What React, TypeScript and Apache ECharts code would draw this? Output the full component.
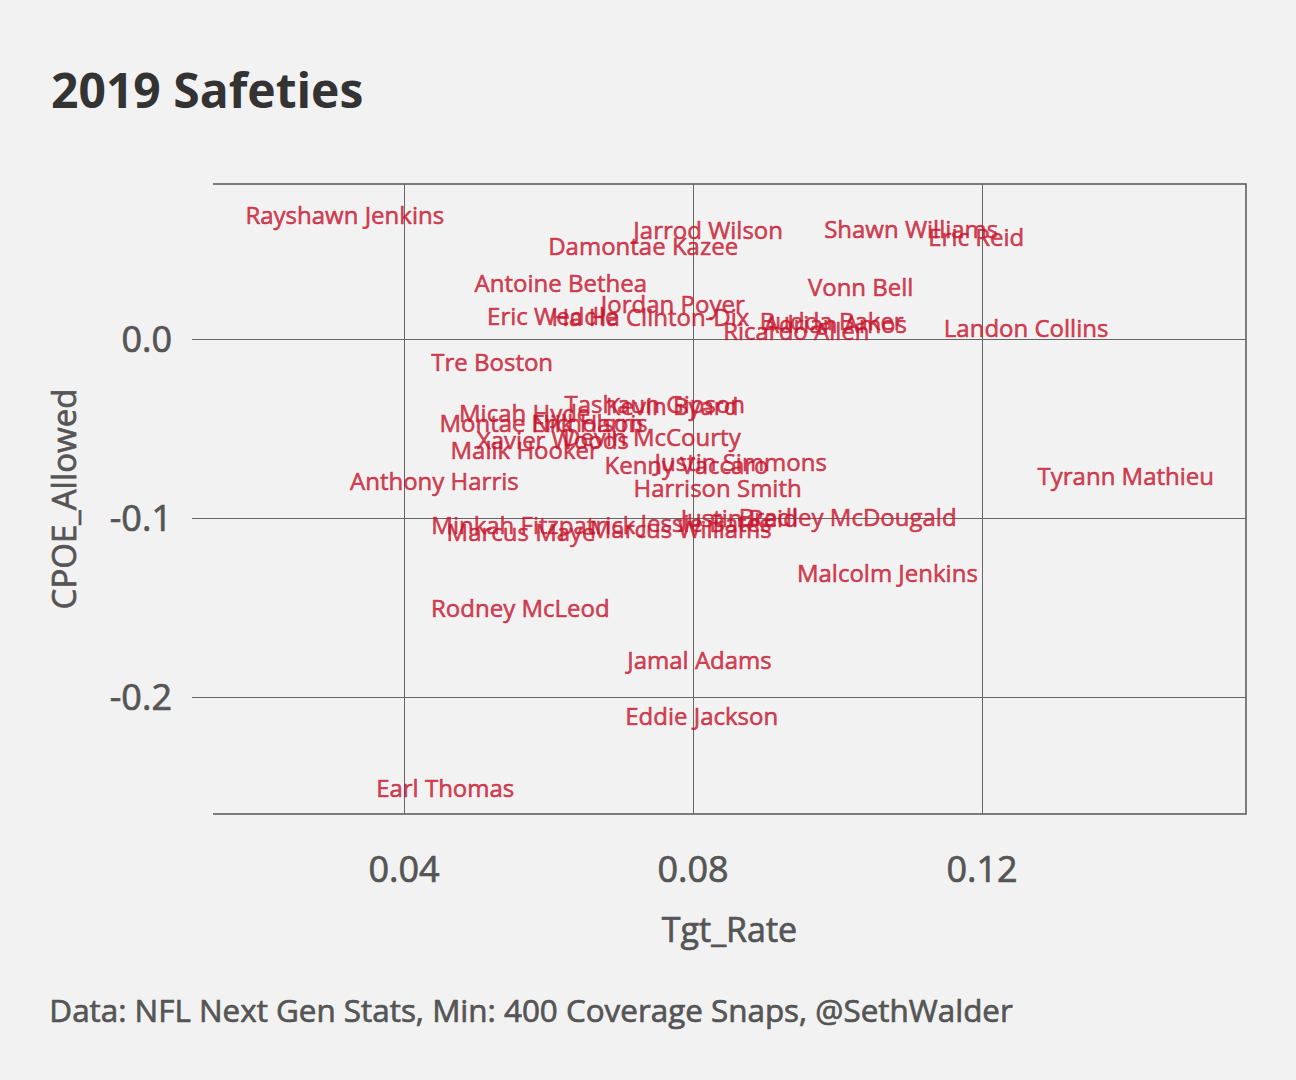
import React, { useEffect, useRef } from "react";
import * as echarts from "echarts";

const players = [
  "Rayshawn Jenkins", "Jarrod Wilson", "Damontae Kazee", "Shawn Williams", "Eric Reid",
  "Antoine Bethea", "Vonn Bell", "Jordan Poyer", "Eric Weddle", "Ha Ha Clinton-Dix",
  "Budda Baker", "Adrian Amos", "Ricardo Allen", "Landon Collins", "Tre Boston",
  "Tashaun Gipson", "Kevin Byard", "Micah Hyde", "Montae Nicholson", "Erik Harris",
  "Xavier Woods", "Devin McCourty", "Malik Hooker", "Kenny Vaccaro", "Justin Simmons",
  "Anthony Harris", "Harrison Smith", "Tyrann Mathieu", "Minkah Fitzpatrick", "Marcus Maye",
  "Jessie Bates", "Marcus Williams", "Justin Reid", "Bradley McDougald", "Malcolm Jenkins",
  "Rodney McLeod", "Jamal Adams", "Eddie Jackson", "Earl Thomas",
];

const tgtRate = [
  0.0318, 0.0821, 0.0731, 0.1102, 0.1192,
  0.0617, 0.1032, 0.0772, 0.0606, 0.0741,
  0.0992, 0.0997, 0.0943, 0.1261, 0.0522,
  0.0747, 0.0771, 0.0567, 0.059, 0.0657,
  0.0606, 0.0743, 0.0567, 0.0791, 0.0866,
  0.0442, 0.0834, 0.1399, 0.0579, 0.0562,
  0.0818, 0.0783, 0.0864, 0.1014, 0.1069,
  0.0561, 0.0809, 0.0812, 0.0457,
];

const cpoeAllowed = [
  0.0693, 0.0609, 0.052, 0.062, 0.057,
  0.0313, 0.0296, 0.0201, 0.0134, 0.0128,
  0.0101, 0.0084, 0.0045, 0.0067, -0.0123,
  -0.0358, -0.0374, -0.0413, -0.0464, -0.0469,
  -0.0564, -0.0547, -0.062, -0.0704, -0.0682,
  -0.0793, -0.0832, -0.076, -0.1034, -0.1073,
  -0.1028, -0.1061, -0.1, -0.0994, -0.1307,
  -0.1503, -0.1793, -0.2106, -0.2508,
];

const xTicks = [0.04, 0.08, 0.12];
const yTicks = [-0.2, -0.1, 0.0];

const FONT = "Open Sans";
const GRID_COLOR = "#666666";
const TEXT_GREY = "#555555";
const RED = "#c8142e";

export default function App() {
  const ref = useRef<HTMLDivElement>(null);

  useEffect(() => {
    document.body.style.margin = "0";
    const chart = echarts.init(ref.current!, undefined, { renderer: "svg" });
    const data = players.map((name, i) => ({ name, value: [tgtRate[i], cpoeAllowed[i]] }));
    const greyText = {
      fontFamily: FONT,
      color: TEXT_GREY,
      textBorderColor: TEXT_GREY,
      textBorderWidth: 0.7,
    };
    chart.setOption({
      animation: false,
      backgroundColor: "#f2f2f2",
      title: {
        text: "2019 Safeties",
        left: 46,
        top: 60,
        textStyle: { fontFamily: FONT, fontWeight: "bold", fontSize: 48, color: "#333333" },
      },
      grid: { left: 213, right: 50, top: 184, bottom: 266, containLabel: false },
      xAxis: {
        type: "value",
        min: 0.01356,
        max: 0.15654,
        name: "Tgt_Rate",
        nameLocation: "middle",
        nameGap: 98,
        nameTextStyle: { ...greyText, fontSize: 34 },
        axisLine: { show: false },
        axisTick: {
          show: true,
          length: 20,
          customValues: xTicks,
          lineStyle: { color: GRID_COLOR, width: 1 },
        },
        axisLabel: {
          customValues: xTicks,
          margin: 36,
          formatter: (v: number) => v.toFixed(2),
          ...greyText,
          fontSize: 36,
        },
        splitLine: { show: true, lineStyle: { color: GRID_COLOR, width: 1 } },
      },
      yAxis: {
        type: "value",
        min: -0.2654,
        max: 0.0866,
        name: "CPOE_Allowed",
        nameLocation: "middle",
        nameGap: 133,
        nameTextStyle: { ...greyText, fontSize: 33 },
        axisLine: { show: false },
        axisTick: {
          show: true,
          length: 21,
          customValues: yTicks,
          lineStyle: { color: GRID_COLOR, width: 1 },
        },
        axisLabel: {
          customValues: yTicks,
          margin: 41,
          formatter: (v: number) => v.toFixed(1),
          ...greyText,
          fontSize: 36,
        },
        splitLine: { show: true, lineStyle: { color: GRID_COLOR, width: 1 } },
      },
      graphic: [
        {
          type: "polyline",
          shape: { points: [[213, 184], [1246, 184], [1246, 814], [213, 814]] },
          style: { stroke: "#555555", lineWidth: 1.5, fill: null },
          silent: true,
        },
        {
          type: "text",
          left: 49,
          top: 994,
          style: {
            text: "Data: NFL Next Gen Stats, Min: 400 Coverage Snaps, @SethWalder",
            fontFamily: FONT,
            fontSize: 31.4,
            fill: TEXT_GREY,
            stroke: TEXT_GREY,
            lineWidth: 0.7,
          },
        },
      ],
      series: [
        {
          type: "scatter",
          data,
          symbolSize: 0,
          silent: true,
          label: {
            show: true,
            position: "inside",
            formatter: "{b}",
            fontFamily: FONT,
            fontSize: 24,
            color: RED,
            textBorderColor: RED,
            textBorderWidth: 0.6,
          },
          labelLayout: { hideOverlap: false },
        },
      ],
    });
    return () => chart.dispose();
  }, []);

  return (
    <div
      ref={ref}
      style={{ position: "fixed", left: 0, top: 0, width: 1296, height: 1080, background: "#f2f2f2" }}
    />
  );
}
